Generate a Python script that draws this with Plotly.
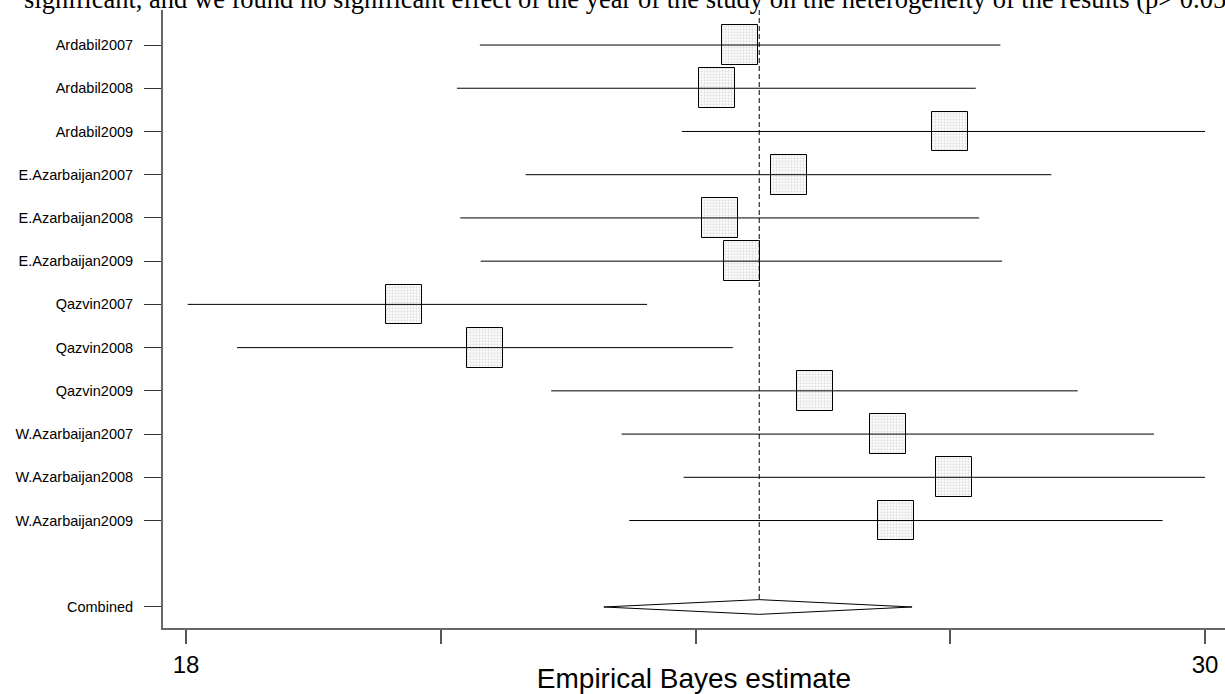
import plotly.graph_objects as go

# ---- data ----
studies = ["Ardabil2007", "Ardabil2008", "Ardabil2009",
           "E.Azarbaijan2007", "E.Azarbaijan2008", "E.Azarbaijan2009",
           "Qazvin2007", "Qazvin2008", "Qazvin2009",
           "W.Azarbaijan2007", "W.Azarbaijan2008", "W.Azarbaijan2009"]
estimate = [24.52, 24.25, 27.00, 25.10, 24.29, 24.55, 20.57, 21.52, 25.41, 26.27, 27.04, 26.36]
lower = [21.46, 21.19, 23.84, 22.00, 21.23, 21.47, 18.02, 18.60, 22.30, 23.13, 23.86, 23.22]
upper = [27.59, 27.30, 30.00, 28.19, 27.34, 27.61, 23.43, 24.44, 28.50, 29.40, 30.00, 29.50]
combined_label = "Combined"
combined_est = 24.75
combined_lower = 22.92
combined_upper = 26.55
x_tickvals = [18, 21, 24, 27, 30]
x_ticktext = ["18", "", "", "", "30"]

# ---- layout helpers ----
rows = list(range(1, len(studies) + 1))
combined_row = len(studies) + 2
box_hw = 0.21       # half width of study boxes (x units)
box_h = 0.92        # height of study boxes (row units)
dia_hh = 0.17       # half height of diamond (row units)

fig = go.Figure()

# study boxes
fig.add_trace(go.Bar(
    orientation="h", y=rows,
    x=[2 * box_hw] * len(rows),
    base=[e - box_hw for e in estimate],
    width=box_h,
    marker=dict(color="white",
                line=dict(color="black", width=1),
                pattern=dict(shape=".", fgcolor="#c4c4c4", bgcolor="white",
                             size=3, solidity=0.45)),
    hoverinfo="skip",
))

# confidence interval lines
cx, cy = [], []
for r, lo, hi in zip(rows, lower, upper):
    cx += [lo, hi, None]
    cy += [r, r, None]
fig.add_trace(go.Scatter(x=cx, y=cy, mode="lines",
                         line=dict(color="black", width=1), hoverinfo="skip"))

# dashed reference line at combined estimate
fig.add_trace(go.Scatter(x=[combined_est, combined_est], y=[0.19, combined_row - dia_hh],
                         mode="lines", line=dict(color="black", width=1, dash="5px,3px"),
                         hoverinfo="skip"))

# combined diamond
fig.add_trace(go.Scatter(
    x=[combined_lower, combined_est, combined_upper, combined_est, combined_lower],
    y=[combined_row, combined_row - dia_hh, combined_row, combined_row + dia_hh, combined_row],
    mode="lines", fill="toself", fillcolor="white",
    line=dict(color="black", width=1), hoverinfo="skip"))

fig.update_layout(
    width=1225, height=694,
    margin=dict(l=163, r=0, t=10, b=66, autoexpand=False),
    plot_bgcolor="white", paper_bgcolor="white",
    showlegend=False,
    font=dict(family="Liberation Sans, Arial, sans-serif", color="black"),
    bargap=0,
)

fig.update_xaxes(
    automargin=False,
    range=[17.729, 30.235],
    tickvals=x_tickvals, ticktext=x_ticktext,
    ticks="outside", ticklen=14, tickwidth=1.5, tickcolor="#555",
    tickfont=dict(size=24, color="black"),
    showgrid=False, zeroline=False,
    showline=True, linecolor="#666", linewidth=2,
    title=dict(text="Empirical Bayes estimate", font=dict(size=28, color="black"), standoff=2),
)
fig.update_yaxes(
    automargin=False,
    range=[combined_row + 0.486, 0.19],
    tickvals=rows + [combined_row], ticktext=studies + [combined_label],
    ticks="outside", ticklen=17, tickwidth=1, tickcolor="#333",
    tickfont=dict(size=14.5, color="black"),
    ticklabelstandoff=8,
    showgrid=False, zeroline=False,
    showline=True, linecolor="#666", linewidth=2,
)

fig.add_annotation(
    text="significant, and we found no significant effect of the year of the study on the heterogeneity of the results (p> 0.05",
    xref="paper", yref="paper", x=(22 - 163) / 1062, y=1.0173,
    xanchor="left", yanchor="middle", showarrow=False,
    font=dict(family="Liberation Serif, Times New Roman, serif", size=26.5, color="black"),
)

fig.write_html("out.html", config={"displayModeBar": False},
               post_script="document.body.style.margin='0';")
